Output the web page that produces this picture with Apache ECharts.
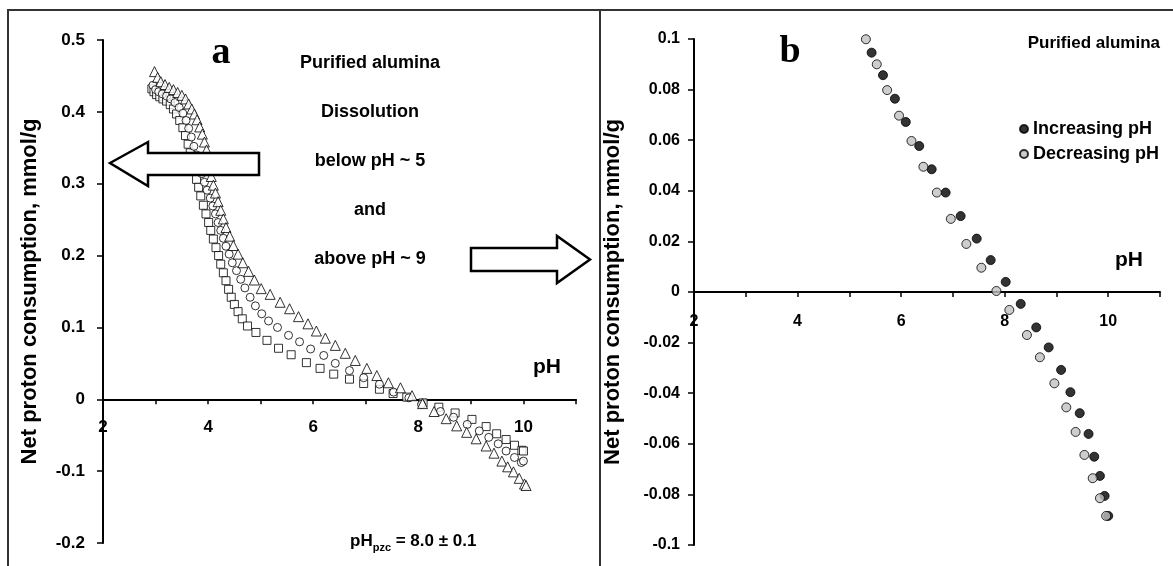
<!DOCTYPE html>
<html><head><meta charset="utf-8">
<script src="https://cdn.jsdelivr.net/npm/echarts/dist/echarts.min.js"></script>
<style>html,body{margin:0;padding:0;background:#fff}#c{width:1173px;height:566px}</style>
</head><body><div id="c"></div>
<script>
// ---- Panel a: three titrations (pH, net proton consumption mmol/g)
const squaresA = [[2.93,0.432],[2.97,0.428],[3.02,0.424],[3.08,0.421],[3.14,0.418],[3.21,0.415],[3.28,0.410],[3.34,0.404],[3.40,0.397],[3.46,0.388],[3.52,0.378],[3.57,0.367],[3.62,0.355],[3.66,0.343],[3.70,0.330],[3.74,0.318],[3.78,0.306],[3.82,0.295],[3.86,0.283],[3.91,0.270],[3.96,0.258],[4.01,0.246],[4.05,0.235],[4.10,0.223],[4.15,0.211],[4.20,0.200],[4.24,0.188],[4.29,0.176],[4.34,0.165],[4.39,0.153],[4.44,0.142],[4.50,0.132],[4.57,0.122],[4.65,0.112],[4.75,0.102],[4.91,0.093],[5.12,0.082],[5.34,0.071],[5.58,0.062],[5.87,0.051],[6.13,0.043],[6.39,0.035],[6.69,0.028],[6.96,0.022],[7.26,0.014],[7.52,0.008],[7.78,0.003],[8.09,-0.005],[8.39,-0.011],[8.70,-0.019],[9.02,-0.028],[9.29,-0.038],[9.49,-0.048],[9.67,-0.056],[9.83,-0.064],[9.97,-0.071],[10.0,-0.072]];
const circlesA = [[2.95,0.437],[3.00,0.431],[3.06,0.428],[3.13,0.425],[3.21,0.422],[3.29,0.418],[3.37,0.413],[3.45,0.406],[3.52,0.398],[3.58,0.388],[3.63,0.377],[3.68,0.365],[3.73,0.352],[3.78,0.340],[3.83,0.327],[3.88,0.314],[3.93,0.302],[3.98,0.291],[4.04,0.280],[4.09,0.269],[4.14,0.258],[4.19,0.246],[4.24,0.235],[4.29,0.224],[4.34,0.213],[4.40,0.202],[4.46,0.190],[4.54,0.179],[4.62,0.167],[4.70,0.155],[4.80,0.142],[4.90,0.130],[5.02,0.119],[5.15,0.109],[5.32,0.100],[5.53,0.089],[5.74,0.080],[5.95,0.070],[6.20,0.061],[6.42,0.050],[6.69,0.040],[6.96,0.030],[7.26,0.021],[7.53,0.010],[7.82,0.002],[8.06,-0.007],[8.42,-0.017],[8.67,-0.025],[8.93,-0.035],[9.16,-0.044],[9.34,-0.053],[9.52,-0.062],[9.67,-0.072],[9.83,-0.081],[9.96,-0.088],[10.0,-0.086]];
const trianglesA = [[2.98,0.456],[3.04,0.448],[3.10,0.442],[3.18,0.438],[3.26,0.434],[3.34,0.431],[3.42,0.427],[3.50,0.423],[3.57,0.418],[3.63,0.411],[3.69,0.404],[3.74,0.397],[3.79,0.389],[3.84,0.379],[3.89,0.369],[3.93,0.358],[3.97,0.347],[4.01,0.335],[4.04,0.322],[4.06,0.310],[4.10,0.298],[4.14,0.287],[4.19,0.275],[4.24,0.263],[4.29,0.251],[4.34,0.239],[4.41,0.227],[4.48,0.214],[4.57,0.202],[4.66,0.190],[4.77,0.178],[4.88,0.166],[5.01,0.154],[5.18,0.146],[5.37,0.135],[5.55,0.126],[5.72,0.115],[5.90,0.105],[6.06,0.095],[6.23,0.085],[6.42,0.075],[6.61,0.064],[6.80,0.054],[7.02,0.043],[7.21,0.033],[7.43,0.023],[7.66,0.016],[7.88,0.005],[8.08,-0.006],[8.30,-0.017],[8.53,-0.027],[8.73,-0.037],[8.92,-0.046],[9.10,-0.055],[9.29,-0.065],[9.44,-0.075],[9.59,-0.086],[9.70,-0.094],[9.81,-0.101],[9.92,-0.110],[10.02,-0.118],[10.05,-0.120]];
// ---- Panel b: purified alumina
const increasingB = [[5.27,0.1003],[5.43,0.0946],[5.65,0.0857],[5.88,0.0764],[6.09,0.0672],[6.35,0.0577],[6.59,0.0485],[6.86,0.0393],[7.15,0.0300],[7.46,0.0211],[7.73,0.0126],[8.02,0.0040],[8.31,-0.0047],[8.61,-0.0140],[8.85,-0.0219],[9.09,-0.0308],[9.27,-0.0396],[9.45,-0.0479],[9.62,-0.0561],[9.73,-0.0651],[9.84,-0.0727],[9.93,-0.0806],[10.0,-0.0885]];
const decreasingB = [[5.32,0.0999],[5.53,0.0900],[5.73,0.0798],[5.96,0.0697],[6.20,0.0597],[6.43,0.0495],[6.69,0.0393],[6.96,0.0289],[7.26,0.0190],[7.55,0.0096],[7.84,0.0004],[8.09,-0.0071],[8.43,-0.0170],[8.68,-0.0258],[8.96,-0.0361],[9.19,-0.0456],[9.37,-0.0553],[9.54,-0.0644],[9.70,-0.0736],[9.84,-0.0815],[9.96,-0.0885]];
const legendB = ['Increasing pH','Decreasing pH'];
const notesA = ['Purified alumina','Dissolution','below pH ~ 5','and','above pH ~ 9'];
const yTitle = 'Net proton consumption, mmol/g';

const FF = '"Liberation Sans", Arial, sans-serif';
const black = '#000';
const evenOnly = v => (Math.round(v) % 2 === 0 ? String(Math.round(v)) : '');

// x axes sit on y = 0: shift them up from the grid bottom by the zero line's distance
function xAx(gi, fs, gridH, yMin, yMax, margin){
  const zeroOffset = gridH * (0 - yMin) / (yMax - yMin);
  return {gridIndex:gi, type:'value', min:2, max:11, interval:1, position:'bottom', offset:-zeroOffset,
    axisLine:{onZero:false, lineStyle:{color:black,width:2}},
    axisTick:{show:true,length:5,lineStyle:{color:black,width:1.5}},
    axisLabel:{formatter:evenOnly, fontSize:fs, fontWeight:'bold', color:black, fontFamily:FF, margin:margin},
    splitLine:{show:false}};
}
function yAx(gi, min, max, iv, fs, margin, gap){
  return {gridIndex:gi, type:'value', min:min, max:max, interval:iv,
    axisLine:{show:true,onZero:false,lineStyle:{color:black,width:2}},
    axisTick:{show:true,length:6,lineStyle:{color:black,width:1.5}},
    axisLabel:{fontSize:fs, fontWeight:'bold', color:black, fontFamily:FF, margin:margin},
    splitLine:{show:false},
    name:yTitle, nameLocation:'middle', nameGap:gap,
    nameTextStyle:{fontSize:22, fontWeight:'bold', color:black, fontFamily:FF}};
}
const openStyle = {color:'#fff', borderColor:'#000', borderWidth:1};

const noteEls = notesA.map((t,i)=>({type:'text', z:110, x:370, y:63+49*i,
  style:{text:t, fill:black, font:'bold 18px '+FF, textAlign:'center', textVerticalAlign:'middle'}}));

const option = {
  animation:false,
  backgroundColor:'#fff',
  grid:[{left:103, top:40, width:473, height:503, outerBoundsMode:'none', containLabel:false},
        {left:694, top:39, width:466, height:506, outerBoundsMode:'none', containLabel:false}],
  xAxis:[xAx(0,17,503,-0.2,0.5,20), xAx(1,16,506,-0.1,0.1,22)],
  yAxis:[yAx(0,-0.2,0.5,0.1,17,18,62), yAx(1,-0.1,0.1,0.02,16,14,70)],
  legend:{data:legendB, orient:'vertical', left:1014, top:115, itemWidth:8, itemHeight:8, itemGap:7,
    icon:'circle', textStyle:{fontSize:18, fontWeight:'bold', color:black, fontFamily:FF}},
  series:[
    {type:'scatter', name:'squares', xAxisIndex:0, yAxisIndex:0, data:squaresA, symbol:'rect', symbolSize:8, itemStyle:openStyle},
    {type:'scatter', name:'circles', xAxisIndex:0, yAxisIndex:0, data:circlesA, symbol:'circle', symbolSize:8, itemStyle:openStyle},
    {type:'scatter', name:'triangles', xAxisIndex:0, yAxisIndex:0, data:trianglesA, symbol:'triangle', symbolSize:10, itemStyle:openStyle},
    {type:'scatter', name:legendB[0], xAxisIndex:1, yAxisIndex:1, data:increasingB, symbol:'circle', symbolSize:9, itemStyle:{color:'#000', borderColor:'#000', borderWidth:1}},
    {type:'scatter', name:legendB[1], xAxisIndex:1, yAxisIndex:1, data:decreasingB, symbol:'circle', symbolSize:9, itemStyle:{color:'#c0c0c0', borderColor:'#000', borderWidth:1}}
  ],
  graphic:[
    {type:'polyline', z:90, shape:{points:[[8,566],[8,10],[1173,10]]}, style:{stroke:'#333', lineWidth:2, fill:null}},
    {type:'line', z:90, shape:{x1:600,y1:10,x2:600,y2:566}, style:{stroke:'#333', lineWidth:2}},
    {type:'polygon', z:100, shape:{points:[[110,163],[148,142],[148,153],[259,153],[259,175],[148,175],[148,186]]}, style:{fill:'#fff', stroke:'#000', lineWidth:2.5}},
    {type:'polygon', z:100, shape:{points:[[471,248],[557,248],[557,236],[590,259.5],[557,283],[557,271],[471,271]]}, style:{fill:'#fff', stroke:'#000', lineWidth:2.5}},
    {type:'text', z:110, x:221, y:53, style:{text:'a', fill:black, font:'bold 38px "Liberation Serif", "Times New Roman", serif', textAlign:'center', textVerticalAlign:'middle'}},
    {type:'text', z:110, x:790, y:52, style:{text:'b', fill:black, font:'bold 38px "Liberation Serif", "Times New Roman", serif', textAlign:'center', textVerticalAlign:'middle'}},
    ...noteEls,
    {type:'text', z:110, x:1160, y:43, style:{text:'Purified alumina', fill:black, font:'bold 17px '+FF, textAlign:'right', textVerticalAlign:'middle'}},
    {type:'text', z:110, x:533, y:367, style:{text:'pH', fill:black, font:'bold 21px '+FF, textAlign:'left', textVerticalAlign:'middle'}},
    {type:'text', z:110, x:1115, y:260, style:{text:'pH', fill:black, font:'bold 21px '+FF, textAlign:'left', textVerticalAlign:'middle'}},
    {type:'text', z:110, x:350, y:530, style:{text:'{a|pH}{b|pzc}{a| = 8.0 ± 0.1}', fill:black,
      rich:{a:{fontSize:17, fontWeight:'bold', fontFamily:FF, fill:black, verticalAlign:'bottom', lineHeight:20},
            b:{fontSize:11, fontWeight:'bold', fontFamily:FF, fill:black, verticalAlign:'bottom', lineHeight:14, padding:[0,0,-3,0]}}}}
  ]
};
echarts.init(document.getElementById('c'), null, {renderer:'canvas'}).setOption(option);
</script>
</body></html>
